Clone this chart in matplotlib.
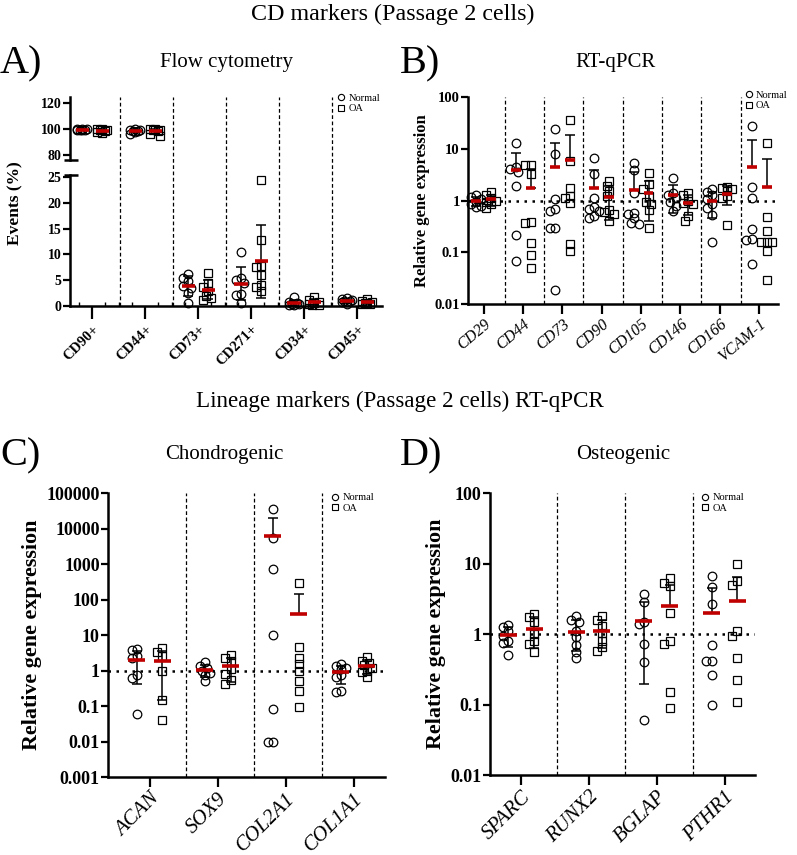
import numpy as np
import matplotlib
matplotlib.use('Agg')
import matplotlib.pyplot as plt
from matplotlib.lines import Line2D

plt.rcParams['font.family'] = ['Liberation Serif', 'DejaVu Serif']

W, H = 797, 855
RED = '#c00000'

# A) Flow cytometry, events (%)
a_labels = ['CD90+', 'CD44+', 'CD73+', 'CD271+', 'CD34+', 'CD45+']
a_normal = [
    [100.0, 99.8, 99.6, 99.3, 99.1, 98.9, 99.9],
    [99.8, 99.5, 99.0, 98.8, 98.5, 97.5, 96.5],
    [6.3, 5.5, 4.8, 3.9, 3.5, 2.5, 0.6],
    [10.4, 5.5, 5.0, 4.5, 2.3, 2.2, 0.5],
    [1.7, 0.8, 0.6, 0.4, 0.3, 0.2, 0.2],
    [1.5, 1.3, 1.1, 1.0, 0.9, 0.7, 0.3],
]
a_oa = [
    [100.0, 99.8, 99.5, 99.0, 98.5, 97.5, 97.0],
    [100.0, 99.8, 99.5, 99.0, 98.5, 96.0, 94.5],
    [6.4, 4.5, 3.6, 3.0, 2.0, 1.5, 1.2],
    [24.4, 12.7, 7.8, 7.5, 6.0, 4.1, 3.6, 3.0],
    [1.7, 1.2, 0.8, 0.5, 0.3, 0.2, 0.2],
    [1.3, 1.0, 0.8, 0.6, 0.5, 0.4, 0.3],
]

# B) RT-qPCR CD markers, relative expression
b_labels = ['CD29', 'CD44', 'CD73', 'CD90', 'CD105', 'CD146', 'CD166', 'VCAM-1']
b_normal = [
    [1.25, 1.15, 1.05, 0.95, 0.85, 0.8, 0.75],
    [12.9, 4.4, 4.0, 3.5, 1.9, 0.22, 0.067],
    [24.4, 7.8, 1.08, 0.69, 0.62, 0.30, 0.29, 0.019],
    [6.7, 3.3, 1.1, 0.74, 0.69, 0.62, 0.51, 0.46],
    [5.3, 3.9, 1.4, 0.58, 0.55, 0.45, 0.36, 0.35],
    [2.75, 1.4, 1.3, 1.1, 0.95, 0.8, 0.62],
    [1.7, 1.45, 1.3, 1.05, 0.85, 0.72, 0.52, 0.16],
    [28.0, 1.8, 1.13, 0.28, 0.18, 0.17, 0.06],
]
b_oa = [
    [1.45, 1.25, 1.1, 1.0, 0.95, 0.85, 0.72],
    [4.9, 4.9, 3.3, 0.38, 0.37, 0.15, 0.09, 0.05],
    [36.5, 5.8, 1.73, 1.2, 1.13, 0.89, 0.145, 0.108],
    [2.4, 1.9, 1.5, 1.2, 0.65, 0.6, 0.55, 0.4],
    [3.4, 2.1, 1.7, 1.2, 0.95, 0.85, 0.65, 0.3],
    [1.4, 1.25, 1.0, 0.9, 0.85, 0.5, 0.4],
    [1.85, 1.75, 1.7, 1.55, 1.2, 1.1, 0.33],
    [13.0, 0.49, 0.255, 0.16, 0.16, 0.16, 0.108, 0.029],
]

# C) Chondrogenic
c_labels = ['ACAN', 'SOX9', 'COL2A1', 'COL1A1']
c_normal = [
    [4.0, 3.8, 2.6, 2.2, 0.75, 0.6, 0.06],
    [1.75, 1.3, 1.15, 1.0, 0.85, 0.75, 0.5],
    [36000, 5500, 700, 10.2, 0.081, 0.0098, 0.0098],
    [1.5, 1.35, 1.2, 1.1, 0.75, 0.65, 0.27, 0.25],
]
c_oa = [
    [4.2, 3.3, 2.6, 1.0, 0.15, 0.04],
    [2.7, 2.3, 1.8, 1.1, 0.8, 0.55, 0.42],
    [293, 4.5, 2.2, 1.5, 1.0, 0.5, 0.27, 0.096],
    [2.4, 1.8, 1.6, 1.4, 1.2, 1.0, 0.9, 0.65],
]

# D) Osteogenic
d_labels = ['SPARC', 'RUNX2', 'BGLAP', 'PTHR1']
d_normal = [
    [1.35, 1.25, 1.1, 0.95, 0.8, 0.75, 0.5],
    [1.8, 1.6, 1.5, 1.1, 0.9, 0.7, 0.55, 0.45],
    [3.68, 2.84, 1.5, 1.39, 0.72, 0.4, 0.06],
    [6.7, 4.7, 2.7, 0.69, 0.42, 0.42, 0.26, 0.1],
]
d_oa = [
    [1.95, 1.75, 1.5, 1.0, 0.8, 0.72, 0.55],
    [1.8, 1.6, 1.3, 1.05, 0.8, 0.65, 0.57],
    [6.2, 5.3, 4.8, 1.98, 0.79, 0.71, 0.15, 0.09],
    [9.8, 5.7, 4.9, 1.11, 0.95, 0.45, 0.22, 0.11],
]


def px_axes(l, t, r, b):
    return fig.add_axes([l / W, 1 - b / H, (r - l) / W, (b - t) / H])


def swarm(ax, xc, vals, diam=8.0):
    # simple greedy spread of overlapping points, kept narrow like Prism
    vals = np.asarray(vals, float)
    tr = ax.transData
    pts = tr.transform(np.column_stack([np.full(len(vals), xc), vals]))
    dx = tr.transform((1, 0))[0] - tr.transform((0, 0))[0]
    cands = sorted(np.arange(-2, 3) * diam * 0.32, key=abs)
    placed = []
    xs = np.zeros(len(vals))
    for i in np.argsort(-vals):
        y = pts[i, 1]
        best, bestd = 0.0, -1
        for off in cands:
            d = min([np.hypot(off - px, y - py) for px, py in placed] or [1e9])
            if d >= diam * 0.7:
                best = off
                break
            if d > bestd:
                best, bestd = off, d
        placed.append((best, y))
        xs[i] = xc + best / dx
    return xs


def group(ax, xc, vals, marker, log):
    vals = np.asarray(vals, float)
    xs = swarm(ax, xc, vals)
    ax.plot(xs, vals, ls='none', marker=marker, ms=6.2, mfc='none', mec='black',
            mew=0.9, zorder=3, clip_on=False)
    m = vals.mean()
    sd = vals.std(ddof=1)
    lo = sd if m - sd > 0 else 0
    ax.errorbar([xc], [m], yerr=[[lo], [sd]], fmt='none', ecolor='black',
                elinewidth=1.1, capsize=3.5, capthick=1.1, zorder=4, clip_on=False)
    ax.hlines(m, xc - 0.125, xc + 0.125, color=RED, lw=2.6, zorder=5, clip_on=False)


def style(ax, ysize, xsize):
    for s in ['top', 'right']:
        ax.spines[s].set_visible(False)
    for s in ['left', 'bottom']:
        ax.spines[s].set_linewidth(1.8)
    ax.tick_params(axis='y', length=5, width=1.6, labelsize=ysize, pad=1)
    ax.tick_params(axis='x', length=7, width=1.6, labelsize=xsize, pad=2)
    for t in ax.get_yticklabels():
        t.set_fontweight('bold')


def legend(ax, x, y):
    h = [Line2D([], [], ls='none', marker='o', ms=4.5, mfc='none', mec='black', mew=0.8),
         Line2D([], [], ls='none', marker='s', ms=4.5, mfc='none', mec='black', mew=0.8)]
    ax.legend(h, ['Normal', 'OA'], loc='upper left', bbox_to_anchor=(x, y), frameon=False,
              fontsize=7.5, handlelength=0.6, handletextpad=0.4, labelspacing=0.1,
              borderaxespad=0, borderpad=0)


def panel_log(ax, labels, normal, oa, ylim, yticks, yticklabels, ysize, xsize, rot, lab_size):
    n = len(labels)
    ax.set_yscale('log')
    ax.set_xlim(-0.45 if n > 4 else -0.55, n - 0.52)
    ax.set_ylim(*ylim)
    ax.set_yticks(yticks, yticklabels)
    ax.minorticks_off()
    ax.set_xticks(range(n), labels, rotation=rot, ha='right', rotation_mode='anchor',
                  fontstyle='italic')
    style(ax, ysize, xsize)
    ax.axhline(1, color='black', ls=(0, (1, 2.2)), lw=1.8, zorder=2)
    for i in range(n - 1):
        ax.axvline(i + 0.53, color='black', ls=(0, (3, 2)), lw=0.9, zorder=1)
    for i in range(n):
        group(ax, i - 0.19, normal[i], 'o', True)
        group(ax, i + 0.19, oa[i], 's', True)
    ax.set_ylabel('Relative gene expression', fontweight='bold', fontsize=lab_size, labelpad=3)


fig = plt.figure(figsize=(W / 100, H / 100), dpi=100)

# titles
fig.text(393 / W, 1 - 14 / H, 'CD markers (Passage 2 cells)', ha='center', va='center', fontsize=17.3)
fig.text(400 / W, 1 - 401 / H, 'Lineage markers (Passage 2 cells) RT-qPCR', ha='center',
         va='center', fontsize=16.6)
for lbl, x, y in [('A)', 0, 64), ('B)', 400, 64), ('C)', 0, 456), ('D)', 400, 456)]:
    fig.text(x / W, 1 - y / H, lbl, ha='left', va='center', fontsize=29)
for txt, x, y in [('Flow cytometry', 227, 63), ('RT-qPCR', 616, 63),
                  ('Chondrogenic', 224, 454), ('Osteogenic', 623, 454)]:
    fig.text(x / W, 1 - y / H, txt, ha='center', va='center', fontsize=15)

# panel A (broken axis)
axA_hi = px_axes(70, 97, 382, 160)
axA_lo = px_axes(70, 175, 382, 306)
n = len(a_labels)
for ax in (axA_hi, axA_lo):
    ax.set_xlim(-0.42, n - 0.53)
axA_hi.set_ylim(76.2, 124.6)
axA_lo.set_ylim(0, 25.4)
axA_hi.set_yticks([80, 100, 120])
axA_lo.set_yticks([0, 5, 10, 15, 20, 25])
axA_lo.set_xticks(range(n), a_labels, rotation=45, ha='right', rotation_mode='anchor',
                  fontweight='bold')
axA_lo.set_xticks([i + d for i in range(n) for d in (-0.25, 0.25, 0.5)][:-1], minor=True)
style(axA_hi, 10, 10.5)
style(axA_lo, 10, 10.5)
axA_lo.tick_params(axis='x', length=9, pad=3)
axA_lo.tick_params(axis='x', which='minor', length=3, width=1.0, direction='in')
axA_hi.spines['bottom'].set_visible(False)
axA_hi.tick_params(axis='x', bottom=False, labelbottom=False)
for ax, y in ((axA_hi, 0), (axA_lo, 1)):
    ax.plot([-0.02, 0.025], [y, y], transform=ax.transAxes, color='black', lw=1.8,
            clip_on=False, solid_capstyle='butt')
frac = (306 - 97) / (306 - 175)
for i in range(n - 1):
    axA_lo.axvline(i + 0.52, 0, frac, color='black', ls=(0, (3, 2)), lw=0.9, zorder=1,
                   clip_on=False)
for i in range(n):
    ax = axA_hi if np.mean(a_normal[i]) > 50 else axA_lo
    group(ax, i - 0.19, a_normal[i], 'o', False)
    group(ax, i + 0.19, a_oa[i], 's', False)
fig.text(15 / W, 1 - 203 / H, 'Events (%)', rotation=90, ha='center', va='center',
         fontweight='bold', fontsize=12.5)
legend(axA_hi, 0.86, 1.05)

# panel B
axB = px_axes(468, 97, 778, 304)
panel_log(axB, b_labels, b_normal, b_oa, (0.01, 100), [0.01, 0.1, 1, 10, 100],
          ['0.01', '0.1', '1', '10', '100'], 10.5, 11.5, 40, 12)
axB.set_xlim(-0.40, 7.48)
legend(axB, 0.895, 1.03)

# panel C
axC = px_axes(108, 493, 385, 777)
panel_log(axC, c_labels, c_normal, c_oa, (0.001, 100000),
          [0.001, 0.01, 0.1, 1, 10, 100, 1000, 10000, 100000],
          ['0.001', '0.01', '0.1', '1', '10', '100', '1000', '10000', '100000'],
          13, 15, 45, 15.8)
axC.set_xlim(-0.61, 3.46)
legend(axC, 0.81, 1.0)

# panel D
axD = px_axes(490, 493, 755, 775)
panel_log(axD, d_labels, d_normal, d_oa, (0.01, 100), [0.01, 0.1, 1, 10, 100],
          ['0.01', '0.1', '1', '10', '100'], 13, 15, 45, 15.8)
axD.set_xlim(-0.46, 3.45)
legend(axD, 0.80, 1.0)

fig.savefig('out.png', dpi=100)
